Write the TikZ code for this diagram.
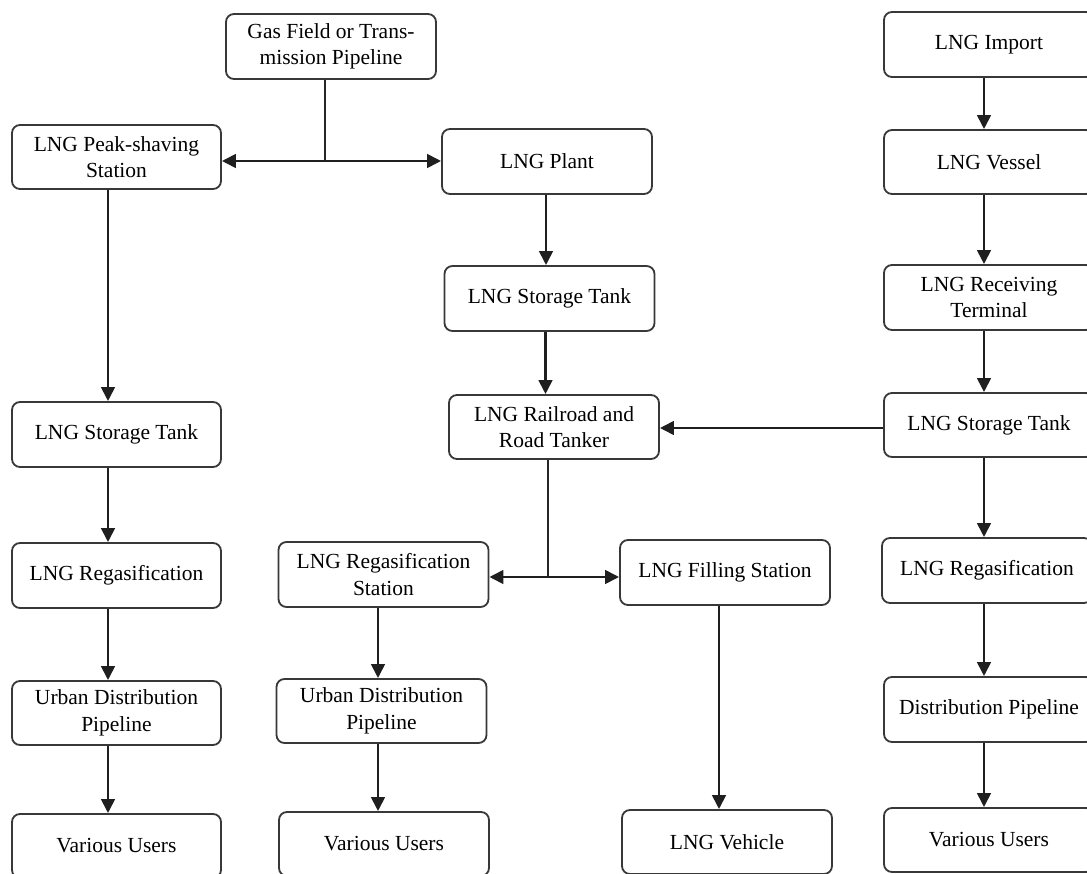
\documentclass[tikz,border=0pt]{standalone}
\usepackage{fontspec}
\setmainfont{Liberation Serif}
\usetikzlibrary{arrows.meta}
\begin{document}
\begin{tikzpicture}[x=1pt,y=-1pt,
  box/.style={draw=black!78,line width=1.8pt,rounded corners=8pt,fill=white,
    minimum width=210pt,minimum height=64pt,inner sep=0pt,align=center,
    font=\fontsize{21.5}{26.5}\selectfont},
  flow/.style={line width=2.9pt,draw=black!88,-{Triangle[length=14pt,width=13.5pt]}},
  both/.style={line width=2.9pt,draw=black!88,{Triangle[length=14pt,width=13.5pt]}-{Triangle[length=14pt,width=13.5pt]}},
  feed/.style={line width=1.9pt,draw=black!85}]
\useasboundingbox (0,0) rectangle (1087,874);
\clip (0,0) rectangle (1087,874);

% left branch: peak-shaving station
\node[box,minimum height=65pt] (gas) at (331,46.5) {Gas Field or Trans-\\mission Pipeline};
\node[box,minimum width=209pt] (peak) at (116.5,157) {LNG Peak-shaving\\Station};
\node[box,minimum width=209pt,minimum height=65pt] (stL) at (116.5,434.5) {LNG Storage Tank};
\node[box,minimum width=209pt,minimum height=65pt] (regL) at (116.5,575.5) {LNG Regasification};
\node[box,minimum width=209pt] (urbL) at (116.5,713) {Urban Distribution\\Pipeline};
\node[box,minimum width=209pt] (varL) at (116.5,846) {Various Users};

% middle branch: liquefaction plant and trucks
\node[box,minimum height=65pt] (plant) at (547,161.5) {LNG Plant};
\node[box,minimum height=65pt] (stM) at (549.5,298.5) {LNG Storage Tank};
\node[box] (rail) at (554,427) {LNG Railroad and\\Road Tanker};
\node[box,minimum height=65pt] (regS) at (383.5,574.5) {LNG Regasification\\Station};
\node[box,minimum height=65pt] (fill) at (725,572.5) {LNG Filling Station};
\node[box] (urbM) at (381.5,711) {Urban Distribution\\Pipeline};
\node[box] (varM) at (384,844) {Various Users};
\node[box] (veh) at (727,842) {LNG Vehicle};

% right branch: imported LNG
\node[box,minimum height=65pt] (imp) at (989,44.5) {LNG Import};
\node[box] (ves) at (989,162) {LNG Vessel};
\node[box,minimum height=65pt] (rec) at (989,297.5) {LNG Receiving\\Terminal};
\node[box] (stR) at (989,425) {LNG Storage Tank};
\node[box,minimum height=65pt] (regR) at (987,570.5) {LNG Regasification};
\node[box,minimum height=65pt] (dist) at (989,709.5) {Distribution Pipeline};
\node[box] (varR) at (989,840) {Various Users};

% junctions
\coordinate (j1) at (325,161);
\coordinate (j2) at (548,577);

% gas supply split
\draw[feed] (gas.south -| j1) -- (j1);
\draw[both] (peak.east |- j1) -- (plant.west |- j1);

% left column
\draw[flow] ([xshift=-8.5pt]peak.south) -- ([xshift=-8.5pt]peak.south |- stL.north);
\draw[flow] ([xshift=-8.5pt]stL.south) -- ([xshift=-8.5pt]stL.south |- regL.north);
\draw[flow] ([xshift=-8.5pt]regL.south) -- ([xshift=-8.5pt]regL.south |- urbL.north);
\draw[flow] ([xshift=-8.5pt]urbL.south) -- ([xshift=-8.5pt]urbL.south |- varL.north);

% middle column
\draw[flow] ([xshift=-1pt]plant.south) -- ([xshift=-1pt]plant.south |- stM.north);
\draw[flow] ([xshift=-4pt]stM.south) -- ([xshift=-4pt]stM.south |- rail.north);
\draw[feed] (rail.south -| j2) -- (j2);
\draw[both] (regS.east |- j2) -- (fill.west |- j2);
\draw[flow] ([xshift=-5.5pt]regS.south) -- ([xshift=-5.5pt]regS.south |- urbM.north);
\draw[flow] ([xshift=-3.5pt]urbM.south) -- ([xshift=-3.5pt]urbM.south |- varM.north);
\draw[flow] ([xshift=-6pt]fill.south) -- ([xshift=-6pt]fill.south |- veh.north);

% right column
\draw[flow] ([xshift=-5pt]imp.south) -- ([xshift=-5pt]imp.south |- ves.north);
\draw[flow] ([xshift=-5pt]ves.south) -- ([xshift=-5pt]ves.south |- rec.north);
\draw[flow] ([xshift=-5pt]rec.south) -- ([xshift=-5pt]rec.south |- stR.north);
\draw[flow] ([xshift=-5pt]stR.south) -- ([xshift=-5pt]stR.south |- regR.north);
\draw[flow] ([xshift=-3pt]regR.south) -- ([xshift=-3pt]regR.south |- dist.north);
\draw[flow] ([xshift=-5pt]dist.south) -- ([xshift=-5pt]dist.south |- varR.north);
\draw[flow] ([yshift=-3pt]stR.west) -- ([yshift=-3pt]stR.west -| rail.east);
\end{tikzpicture}
\end{document}
